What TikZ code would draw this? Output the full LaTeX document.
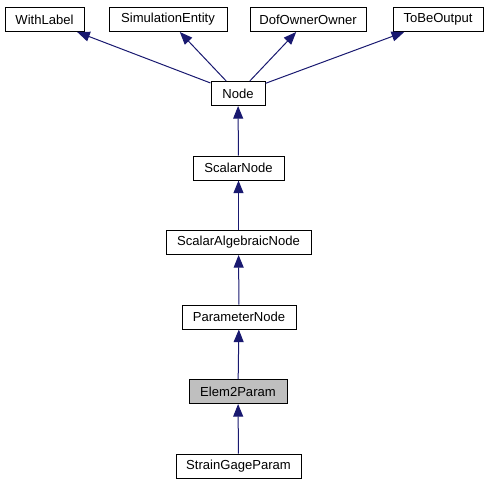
\documentclass[tikz,border=0pt]{standalone}
\usepackage{fontspec}
\setmainfont{Liberation Sans}
\usetikzlibrary{positioning,arrows.meta}
\definecolor{edgeblue}{HTML}{191970}
\tikzset{
    classbox/.style={draw=black,fill=white,line width=0.75pt,minimum height=18pt,inner sep=0pt,font=\fontsize{9.8}{11}\selectfont},
    inherit/.style={draw=edgeblue,line width=0.75pt,-{Triangle[length=9.5pt,width=7.5pt]}}
}
\newcommand{\myClass}[5][]{
    \node[classbox,minimum width=#4,#1] (#5) at (#2,#3) {#5};
}

\begin{document}
\begin{tikzpicture}[x=0.75pt,y=-0.75pt]
      \useasboundingbox (0,0) rectangle (489,485);

      \myClass{44.5}{19.5}{59.25pt}{WithLabel}
      \myClass{168}{19.5}{88.5pt}{SimulationEntity}
      \myClass{308}{19.5}{87pt}{DofOwnerOwner}
      \myClass{438}{19.5}{67.5pt}{ToBeOutput}

      \myClass{238}{93.5}{40.5pt}{Node}
      \myClass{238.5}{168}{68.25pt}{ScalarNode}
      \myClass{238.5}{242.5}{108.75pt}{ScalarAlgebraicNode}
      \myClass{239}{317}{85.5pt}{ParameterNode}
      \myClass[fill=black!25]{238}{391.5}{73.5pt}{Elem2Param}
      \myClass{238.5}{466}{93.75pt}{StrainGageParam}

      \draw[inherit] (Node) -- (WithLabel);
      \draw[inherit] (Node) -- (SimulationEntity);
      \draw[inherit] (Node) -- (DofOwnerOwner);
      \draw[inherit] (Node) -- (ToBeOutput);
      \draw[inherit] (ScalarNode) -- (Node);
      \draw[inherit] (ScalarAlgebraicNode) -- (ScalarNode);
      \draw[inherit] (ParameterNode) -- (ScalarAlgebraicNode);
      \draw[inherit] (Elem2Param) -- (ParameterNode);
      \draw[inherit] (StrainGageParam) -- (Elem2Param);
  \end{tikzpicture}
\end{document}
